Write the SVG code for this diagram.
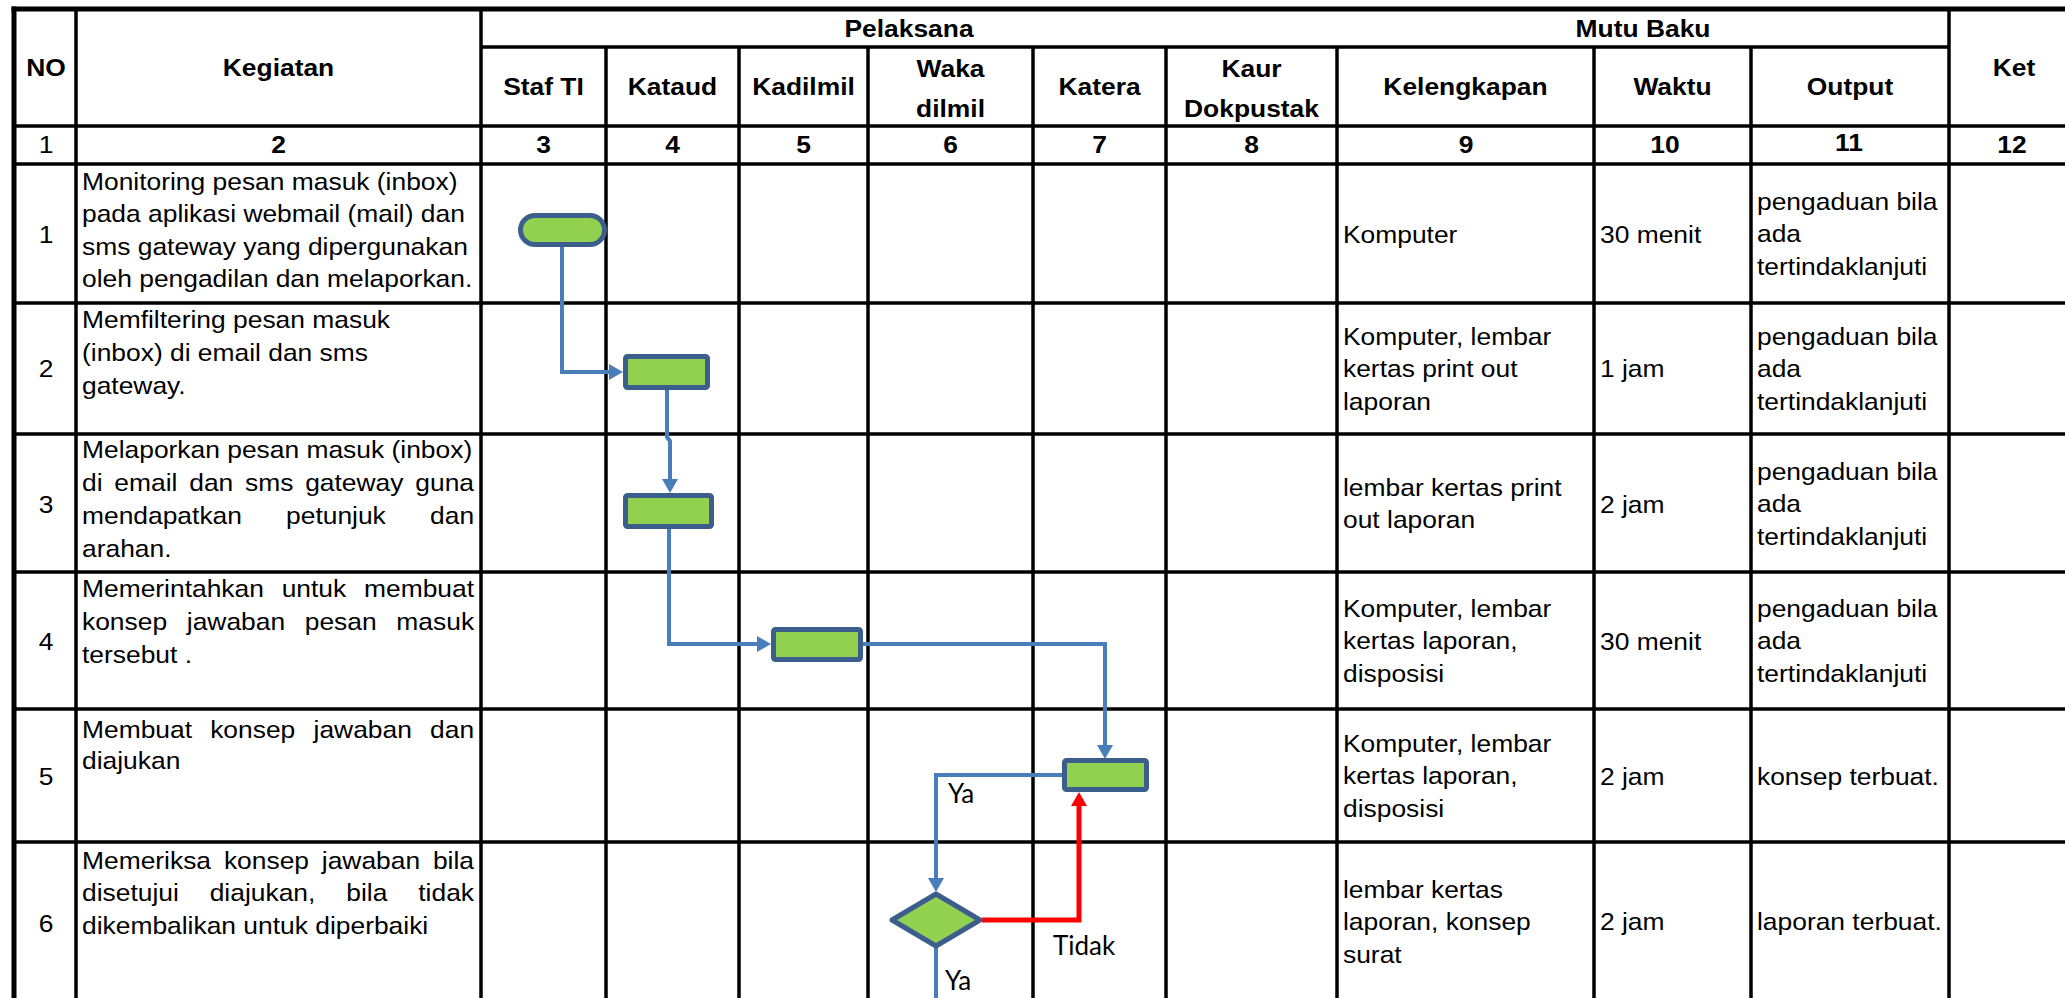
<svg xmlns="http://www.w3.org/2000/svg" width="2065" height="998" viewBox="0 0 2065 998">
<style>
.bg{fill:#fff}
.grid line{stroke:#000;stroke-width:3.5}
.grid .outer{stroke-width:5}
.t{font-family:"Liberation Sans",Arial,sans-serif;font-size:24px;fill:#000}
.b{font-weight:bold}
.c{text-anchor:middle}
.lbl{font-family:Lato,"Open Sans",sans-serif;font-size:26px;fill:#000}
.shape{fill:#92D050;stroke:#3B5E8C;stroke-width:5;stroke-linejoin:round}
.conn{fill:none;stroke:#4A7EBB;stroke-width:4}
.conn.red{stroke:#FF0000;stroke-width:5}
</style>
<defs>
<marker id="ab" markerUnits="userSpaceOnUse" markerWidth="14" markerHeight="16" viewBox="0 0 14 16" refX="0" refY="8" orient="auto"><path d="M0,0 L14,8 L0,16 z" fill="#4A7EBB"/></marker>
<marker id="ar" markerUnits="userSpaceOnUse" markerWidth="14" markerHeight="16" viewBox="0 0 14 16" refX="0" refY="8" orient="auto"><path d="M0,0 L14,8 L0,16 z" fill="#FF0000"/></marker>
</defs>
<rect class="bg" x="0" y="0" width="2065" height="998"/>
<g id="table" class="grid">
<line class="outer" x1="11.5" y1="9" x2="2065" y2="9"/>
<line class="outer" x1="14" y1="6.5" x2="14" y2="998"/>
<line x1="481" y1="47" x2="1949" y2="47"/>
<line x1="14" y1="126" x2="2065" y2="126"/>
<line x1="14" y1="164" x2="2065" y2="164"/>
<line x1="14" y1="303" x2="2065" y2="303"/>
<line x1="14" y1="434" x2="2065" y2="434"/>
<line x1="14" y1="572" x2="2065" y2="572"/>
<line x1="14" y1="709" x2="2065" y2="709"/>
<line x1="14" y1="842" x2="2065" y2="842"/>
<line x1="76" y1="9" x2="76" y2="998"/>
<line x1="481" y1="9" x2="481" y2="998"/>
<line x1="606" y1="47" x2="606" y2="998"/>
<line x1="739" y1="47" x2="739" y2="998"/>
<line x1="868" y1="47" x2="868" y2="998"/>
<line x1="1033" y1="47" x2="1033" y2="998"/>
<line x1="1166" y1="47" x2="1166" y2="998"/>
<line x1="1337" y1="47" x2="1337" y2="998"/>
<line x1="1594" y1="47" x2="1594" y2="998"/>
<line x1="1751" y1="47" x2="1751" y2="998"/>
<line x1="1949" y1="9" x2="1949" y2="998"/>
</g>
<g id="header" class="t b c">
<text transform="translate(46,76) scale(1.1,1)">NO</text>
<text transform="translate(278.5,76) scale(1.1,1)">Kegiatan</text>
<text transform="translate(909,37) scale(1.1,1)">Pelaksana</text>
<text transform="translate(1643,37) scale(1.1,1)">Mutu Baku</text>
<text transform="translate(2014,76) scale(1.1,1)">Ket</text>
<text transform="translate(543.5,95) scale(1.1,1)">Staf TI</text>
<text transform="translate(672.5,95) scale(1.1,1)">Kataud</text>
<text transform="translate(803.5,95) scale(1.1,1)">Kadilmil</text>
<text transform="translate(950.5,77) scale(1.1,1)"><tspan x="0" y="0">Waka</tspan><tspan x="0" y="40">dilmil</tspan></text>
<text transform="translate(1099.5,95) scale(1.1,1)">Katera</text>
<text transform="translate(1251.5,77) scale(1.1,1)"><tspan x="0" y="0">Kaur</tspan><tspan x="0" y="40">Dokpustak</tspan></text>
<text transform="translate(1465.5,95) scale(1.1,1)">Kelengkapan</text>
<text transform="translate(1672.5,95) scale(1.1,1)">Waktu</text>
<text transform="translate(1850,95) scale(1.1,1)">Output</text>
<text transform="translate(46,153) scale(1.1,1)" font-weight="normal">1</text>
<text transform="translate(278.5,153) scale(1.1,1)">2</text>
<text transform="translate(543.5,153) scale(1.1,1)">3</text>
<text transform="translate(672.5,153) scale(1.1,1)">4</text>
<text transform="translate(803.5,153) scale(1.1,1)">5</text>
<text transform="translate(950.5,153) scale(1.1,1)">6</text>
<text transform="translate(1099.5,153) scale(1.1,1)">7</text>
<text transform="translate(1251.5,153) scale(1.1,1)">8</text>
<text transform="translate(1466,153) scale(1.1,1)">9</text>
<text transform="translate(1665,153) scale(1.1,1)">10</text>
<text transform="translate(1849,151) scale(1.1,1)">11</text>
<text transform="translate(2012,153) scale(1.1,1)">12</text>
</g>
<g id="rownums" class="t c">
<text transform="translate(46,243) scale(1.1,1)">1</text>
<text transform="translate(46,377) scale(1.1,1)">2</text>
<text transform="translate(46,513) scale(1.1,1)">3</text>
<text transform="translate(46,650) scale(1.1,1)">4</text>
<text transform="translate(46,785) scale(1.1,1)">5</text>
<text transform="translate(46,932) scale(1.1,1)">6</text>
</g>
<g id="kegiatan" class="t">
<text transform="translate(82,190) scale(1.1,1)"><tspan x="0" y="0">Monitoring pesan masuk (inbox)</tspan><tspan x="0" y="32.5">pada aplikasi webmail (mail) dan</tspan><tspan x="0" y="65">sms gateway yang dipergunakan</tspan><tspan x="0" y="97.5">oleh pengadilan dan melaporkan.</tspan></text>
<text transform="translate(82,328) scale(1.1,1)"><tspan x="0" y="0">Memfiltering pesan masuk</tspan><tspan x="0" y="33">(inbox) di email dan sms</tspan><tspan x="0" y="66">gateway.</tspan></text>
<text transform="translate(82,458) scale(1.1,1)"><tspan x="0" y="0">Melaporkan pesan masuk (inbox)</tspan><tspan x="0" y="33">di</tspan><tspan x="29.4" y="33">email</tspan><tspan x="97.5" y="33">dan</tspan><tspan x="148.2" y="33">sms</tspan><tspan x="202.9" y="33">gateway</tspan><tspan x="303" y="33">guna</tspan><tspan x="0" y="66">mendapatkan</tspan><tspan x="185.5" y="66">petunjuk</tspan><tspan x="316.4" y="66">dan</tspan><tspan x="0" y="99">arahan.</tspan></text>
<text transform="translate(82,597) scale(1.1,1)"><tspan x="0" y="0">Memerintahkan</tspan><tspan x="181.5" y="0">untuk</tspan><tspan x="256.4" y="0">membuat</tspan><tspan x="0" y="33">konsep</tspan><tspan x="95.3" y="33">jawaban</tspan><tspan x="202.5" y="33">pesan</tspan><tspan x="285.8" y="33">masuk</tspan><tspan x="0" y="66">tersebut .</tspan></text>
<text transform="translate(82,738) scale(1.1,1)"><tspan x="0" y="0">Membuat</tspan><tspan x="116.5" y="0">konsep</tspan><tspan x="210.5" y="0">jawaban</tspan><tspan x="316.4" y="0">dan</tspan><tspan x="0" y="31.5">diajukan</tspan></text>
<text transform="translate(82,869) scale(1.1,1)"><tspan x="0" y="0">Memeriksa</tspan><tspan x="129" y="0">konsep</tspan><tspan x="218" y="0">jawaban</tspan><tspan x="319" y="0">bila</tspan><tspan x="0" y="32.5">disetujui</tspan><tspan x="116.1" y="32.5">diajukan,</tspan><tspan x="240.3" y="32.5">bila</tspan><tspan x="305.7" y="32.5">tidak</tspan><tspan x="0" y="65">dikembalikan untuk diperbaiki</tspan></text>
</g>
<g id="mutu" class="t">
<text transform="translate(1343,243) scale(1.1,1)">Komputer</text>
<text transform="translate(1343,345) scale(1.1,1)"><tspan x="0" y="0">Komputer, lembar</tspan><tspan x="0" y="32.5">kertas print out</tspan><tspan x="0" y="65">laporan</tspan></text>
<text transform="translate(1343,496) scale(1.1,1)"><tspan x="0" y="0">lembar kertas print</tspan><tspan x="0" y="32.5">out laporan</tspan></text>
<text transform="translate(1343,617) scale(1.1,1)"><tspan x="0" y="0">Komputer, lembar</tspan><tspan x="0" y="32.5">kertas laporan,</tspan><tspan x="0" y="65">disposisi</tspan></text>
<text transform="translate(1343,752) scale(1.1,1)"><tspan x="0" y="0">Komputer, lembar</tspan><tspan x="0" y="32.5">kertas laporan,</tspan><tspan x="0" y="65">disposisi</tspan></text>
<text transform="translate(1343,898) scale(1.1,1)"><tspan x="0" y="0">lembar kertas</tspan><tspan x="0" y="32.5">laporan, konsep</tspan><tspan x="0" y="65">surat</tspan></text>
<text transform="translate(1600,243) scale(1.1,1)">30 menit</text>
<text transform="translate(1600,377) scale(1.1,1)">1 jam</text>
<text transform="translate(1600,513) scale(1.1,1)">2 jam</text>
<text transform="translate(1600,650) scale(1.1,1)">30 menit</text>
<text transform="translate(1600,785) scale(1.1,1)">2 jam</text>
<text transform="translate(1600,930) scale(1.1,1)">2 jam</text>
<text transform="translate(1757,210) scale(1.1,1)"><tspan x="0" y="0">pengaduan bila</tspan><tspan x="0" y="32.5">ada</tspan><tspan x="0" y="65">tertindaklanjuti</tspan></text>
<text transform="translate(1757,345) scale(1.1,1)"><tspan x="0" y="0">pengaduan bila</tspan><tspan x="0" y="32.5">ada</tspan><tspan x="0" y="65">tertindaklanjuti</tspan></text>
<text transform="translate(1757,480) scale(1.1,1)"><tspan x="0" y="0">pengaduan bila</tspan><tspan x="0" y="32.5">ada</tspan><tspan x="0" y="65">tertindaklanjuti</tspan></text>
<text transform="translate(1757,617) scale(1.1,1)"><tspan x="0" y="0">pengaduan bila</tspan><tspan x="0" y="32.5">ada</tspan><tspan x="0" y="65">tertindaklanjuti</tspan></text>
<text transform="translate(1757,785) scale(1.1,1)">konsep terbuat.</text>
<text transform="translate(1757,930) scale(1.1,1)">laporan terbuat.</text>
</g>
<g id="connectors">
<path class="conn" d="M562,247 V372 H609" marker-end="url(#ab)"/>
<path class="conn" d="M667,390 V437 L670,441 V479" marker-end="url(#ab)"/>
<path class="conn" d="M669,529 V644 H757" marker-end="url(#ab)"/>
<path class="conn" d="M863,644 H1105 V745" marker-end="url(#ab)"/>
<path class="conn" d="M1062,775 H936 V878" marker-end="url(#ab)"/>
<path class="conn red" d="M982,920 H1079 V806" marker-end="url(#ar)"/>
<path class="conn" d="M936,948 V998"/>
<text class="lbl" x="948" y="803">Ya</text>
<text class="lbl" x="1053" y="955">Tidak</text>
<text class="lbl" x="945" y="990">Ya</text>
</g>
<g id="start"><rect class="shape" x="520.5" y="215.5" width="84" height="29" rx="14.5"/></g>
<g id="p2"><rect class="shape" x="625.5" y="356.5" width="82" height="31" rx="2"/></g>
<g id="p3"><rect class="shape" x="625.5" y="495.5" width="86" height="31" rx="2"/></g>
<g id="p4"><rect class="shape" x="773.5" y="629.5" width="87" height="30" rx="2"/></g>
<g id="p5"><rect class="shape" x="1064.5" y="760.5" width="82" height="29" rx="2"/></g>
<g id="decision"><polygon class="shape" points="936,894 980,920 936,946 892,920"/></g>
</svg>
